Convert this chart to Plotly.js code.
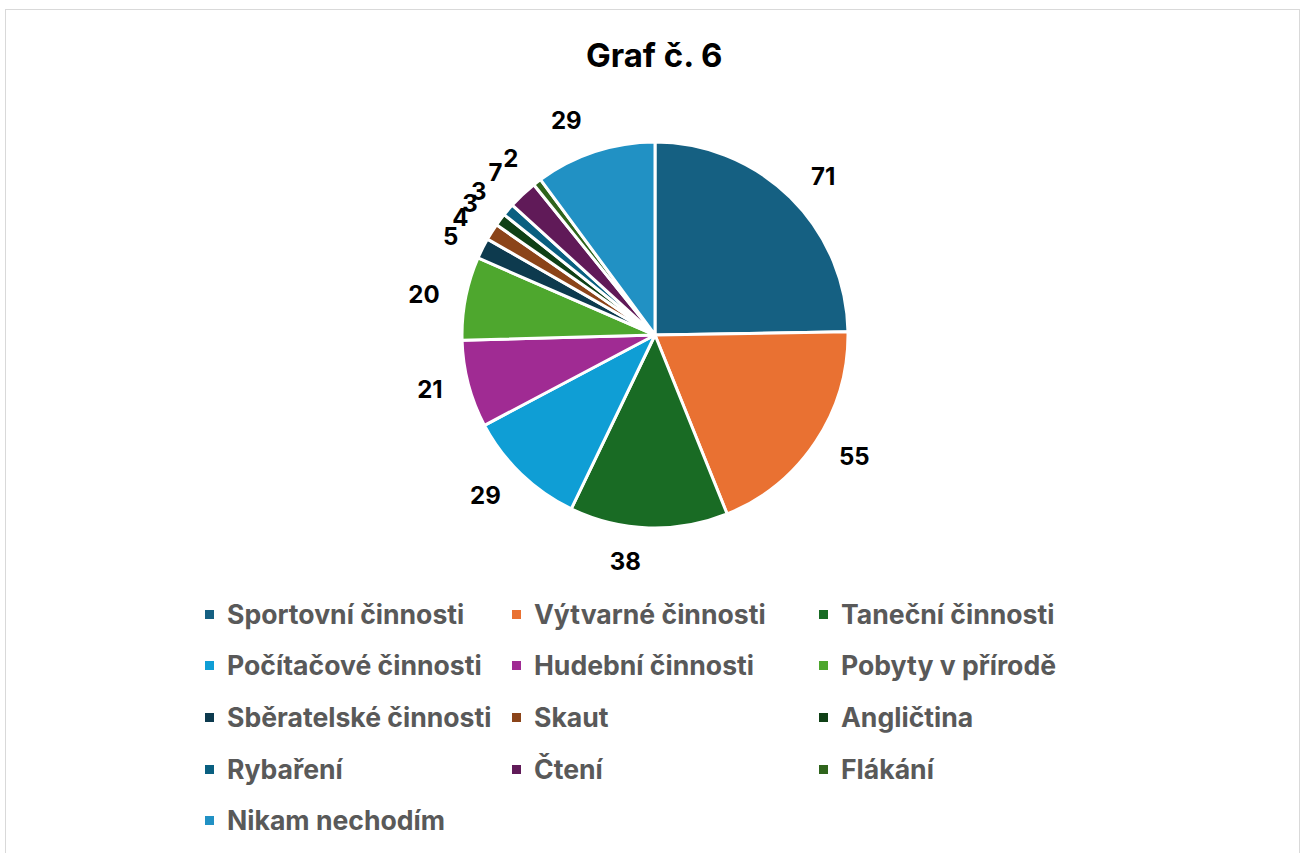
<!DOCTYPE html>
<html>
<head>
<meta charset="utf-8">
<script src="https://cdn.plot.ly/plotly-3.0.1.min.js"></script>
<style>
html,body{margin:0;padding:0;background:#fff;}
#frame{position:absolute;left:5px;top:9px;width:1295px;height:860px;border:1px solid #D9D9D9;box-sizing:border-box;}
#chart{position:absolute;left:0;top:0;width:1307px;height:853px;}
.textline{display:none;}
</style>
</head>
<body>
<div id="frame"></div>
<div id="chart"></div>
<script>
const categories = ["Sportovní činnosti","Výtvarné činnosti","Taneční činnosti","Počítačové činnosti","Hudební činnosti","Pobyty v přírodě","Sběratelské činnosti","Skaut","Angličtina","Rybaření","Čtení","Flákání","Nikam nechodím"];
const values = [71,55,38,29,21,20,5,4,3,3,7,2,29];
const colors = ["#156082","#E97132","#196B24","#0F9ED5","#A02B93","#4EA72E","#0D3A4E","#8B4419","#0F4016","#095F80","#601A58","#2F641C","#2191C4"];
// which label layer shows each slice's value (labels split so neighbouring small labels don't get pushed apart)
const labelLayer = [0,0,0,0,0,0,0,1,2,0,1,2,0];

const W = 1307, H = 853;
const cx = 655, cy = 335, R = 193, RL = 212;

const FONT = "Inter, 'Open Sans', Arial, sans-serif";

function dom(r) {
  return {x: [(cx - r) / W, (cx + r) / W], y: [1 - (cy + r) / H, 1 - (cy - r) / H]};
}

const pieTrace = {
  type: "pie",
  labels: categories,
  values: values,
  sort: false,
  direction: "clockwise",
  rotation: 0,
  marker: {colors: colors, line: {color: "#ffffff", width: 3}},
  textinfo: "none",
  automargin: false,
  showlegend: false,
  hoverinfo: "label+value",
  domain: dom(R)
};

function labelTrace(layer) {
  return {
    type: "pie",
    labels: categories,
    values: values,
    sort: false,
    direction: "clockwise",
    rotation: 0,
    marker: {colors: categories.map(() => "rgba(0,0,0,0)"), line: {width: 0}},
    textinfo: "value",
    textposition: labelLayer.map(l => l === layer ? "outside" : "none"),
    outsidetextfont: {family: FONT, size: 24, color: "#000000", weight: "bold"},
    automargin: false,
    showlegend: false,
    hoverinfo: "skip",
    domain: dom(RL)
  };
}

const annotations = [];
const shapes = [];
const colX = [205, 512, 819];
const rowY = [614, 665, 717, 769, 820];
categories.forEach((c, i) => {
  const col = i % 3, row = Math.floor(i / 3);
  const sx = colX[col], sy = rowY[row];
  shapes.push({type: "rect", xref: "paper", yref: "paper",
    x0: sx / W, x1: (sx + 9) / W, y0: 1 - (sy + 5) / H, y1: 1 - (sy - 4) / H,
    fillcolor: colors[i], line: {width: 0}});
  annotations.push({xref: "paper", yref: "paper", x: (sx + 20) / W, y: 1 - sy / H,
    xanchor: "left", yanchor: "middle", showarrow: false, text: c,
    font: {family: FONT, size: 26.6, color: "#595959", weight: "bold"}});
});

const layout = {
  width: W, height: H,
  margin: {l: 0, r: 0, t: 0, b: 0},
  paper_bgcolor: "rgba(0,0,0,0)",
  plot_bgcolor: "rgba(0,0,0,0)",
  title: {text: "Graf č. 6", x: 0.5005, xanchor: "center", y: 1 - 55 / H, yanchor: "middle",
    font: {family: FONT, size: 33, color: "#000000", weight: "bold"}},
  annotations: annotations,
  shapes: shapes,
  showlegend: false
};

Plotly.newPlot("chart", [pieTrace, labelTrace(0), labelTrace(1), labelTrace(2)], layout, {displayModeBar: false, staticPlot: true});
</script>
</body>
</html>
